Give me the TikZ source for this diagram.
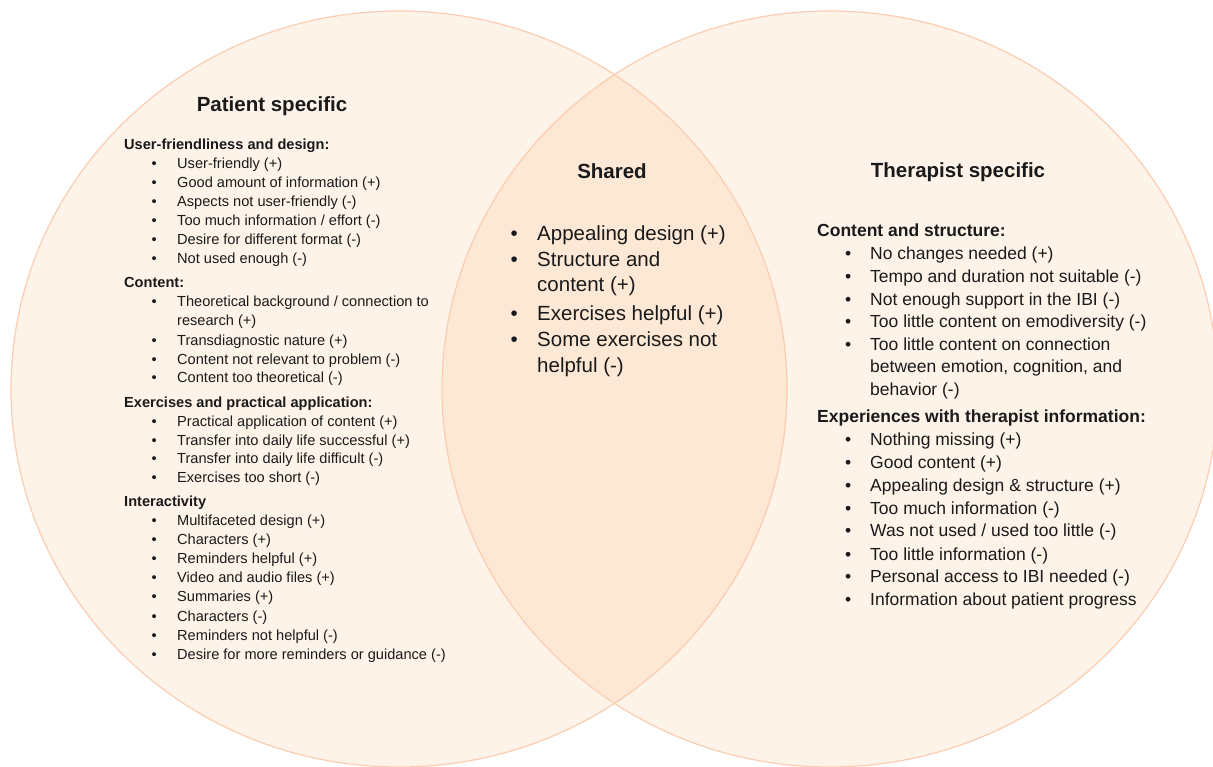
\documentclass[tikz,border=0pt]{standalone}
\usepackage{fontspec}
\setmainfont{Liberation Sans}
\definecolor{vennfill}{HTML}{FEF3E9}
\definecolor{vennshared}{HTML}{FDE7D5}
\definecolor{vennedge}{HTML}{FBCDB0}
\definecolor{ink}{HTML}{1A1A1A}
\begin{document}
\begin{tikzpicture}[x=1pt,y=-1pt,
  every node/.style={inner sep=0pt,text=ink},
  title/.style={font=\fontsize{20.5}{24}\selectfont\bfseries,anchor=base},
  phead/.style={font=\fontsize{14.6}{19}\selectfont\bfseries,anchor=base west},
  pcont/.style={font=\fontsize{14.6}{19}\selectfont,anchor=base west},
  pitem/.style={pcont,execute at begin node={\llap{\textbullet\hspace{20.5pt}}}},
  scont/.style={font=\fontsize{20.5}{25}\selectfont,anchor=base west},
  sitem/.style={scont,execute at begin node={\llap{\textbullet\hspace{19.4pt}}}},
  thead/.style={font=\fontsize{17.5}{22}\selectfont\bfseries,anchor=base west},
  tcont/.style={font=\fontsize{17.5}{22}\selectfont,anchor=base west},
  titem/.style={tcont,execute at begin node={\llap{\textbullet\hspace{19pt}}}},
  venn/.style={x radius=388,y radius=378}]
\useasboundingbox (0,0) rectangle (1213,767);

% circles: fills, overlap, outlines
\fill[vennfill] (399,389) ellipse [venn];
\fill[vennfill] (830,389) ellipse [venn];
\begin{scope}
  \clip (399,389) ellipse [venn];
  \fill[vennshared] (830,389) ellipse [venn];
\end{scope}
\draw[vennedge,line width=1.2pt] (399,389) ellipse [venn];
\draw[vennedge,line width=1.2pt] (830,389) ellipse [venn];

% patient specific
\node[title] (ptitle) at (272,112) {Patient specific};
\node[phead] (ph1) at (124,150) {User-friendliness and design:};
\node[pitem] (p1) at (177,169) {User-friendly (+)};
\node[pitem] (p2) at (177,188) {Good amount of information (+)};
\node[pitem] (p3) at (177,207) {Aspects not user-friendly (-)};
\node[pitem] (p4) at (177,226) {Too much information / effort (-)};
\node[pitem] (p5) at (177,245) {Desire for different format (-)};
\node[pitem] (p6) at (177,264) {Not used enough (-)};
\node[phead] (ph2) at (124,288) {Content:};
\node[pitem] (p7) at (177,307) {Theoretical background / connection to};
\node[pcont] (p7b) at (177,326) {research (+)};
\node[pitem] (p8) at (177,345) {Transdiagnostic nature (+)};
\node[pitem] (p9) at (177,364) {Content not relevant to problem (-)};
\node[pitem] (p10) at (177,382) {Content too theoretical (-)};
\node[phead] (ph3) at (124,407) {Exercises and practical application:};
\node[pitem] (p11) at (177,426) {Practical application of content (+)};
\node[pitem] (p12) at (177,445) {Transfer into daily life successful (+)};
\node[pitem] (p13) at (177,463) {Transfer into daily life difficult (-)};
\node[pitem] (p14) at (177,482) {Exercises too short (-)};
\node[phead] (ph4) at (124,506) {Interactivity};
\node[pitem] (p15) at (177,525) {Multifaceted design (+)};
\node[pitem] (p16) at (177,544) {Characters (+)};
\node[pitem] (p17) at (177,563) {Reminders helpful (+)};
\node[pitem] (p18) at (177,582) {Video and audio files (+)};
\node[pitem] (p19) at (177,601) {Summaries (+)};
\node[pitem] (p20) at (177,621) {Characters (-)};
\node[pitem] (p21) at (177,640) {Reminders not helpful (-)};
\node[pitem] (p22) at (177,659) {Desire for more reminders or guidance (-)};

% shared
\node[title] (stitle) at (612,179) {Shared};
\node[sitem] (s1) at (537,241) {Appealing design (+)};
\node[sitem] (s2) at (537,267) {Structure and};
\node[scont] (s2b) at (537,292) {content (+)};
\node[sitem] (s3) at (537,320) {Exercises helpful (+)};
\node[sitem] (s4) at (537,347) {Some exercises not};
\node[scont] (s4b) at (537,372) {helpful (-)};

% therapist specific
\node[title] (ttitle) at (958,178) {Therapist specific};
\node[thead] (th1) at (817,237) {Content and structure:};
\node[titem] (t1) at (870,260) {No changes needed (+)};
\node[titem] (t2) at (870,283) {Tempo and duration not suitable (-)};
\node[titem] (t3) at (870,306) {Not enough support in the IBI (-)};
\node[titem] (t4) at (870,328) {Too little content on emodiversity (-)};
\node[titem] (t5) at (870,351) {Too little content on connection};
\node[tcont] (t5b) at (870,373) {between emotion, cognition, and};
\node[tcont] (t5c) at (870,395) {behavior (-)};
\node[thead] (th2) at (817,422) {Experiences with therapist information:};
\node[titem] (t6) at (870,445) {Nothing missing (+)};
\node[titem] (t7) at (870,468) {Good content (+)};
\node[titem] (t8) at (870,491) {Appealing design \& structure (+)};
\node[titem] (t9) at (870,514) {Too much information (-)};
\node[titem] (t10) at (870,536) {Was not used / used too little (-)};
\node[titem] (t11) at (870,560) {Too little information (-)};
\node[titem] (t12) at (870,582) {Personal access to IBI needed (-)};
\node[titem] (t13) at (870,605) {Information about patient progress};
\end{tikzpicture}
\end{document}
